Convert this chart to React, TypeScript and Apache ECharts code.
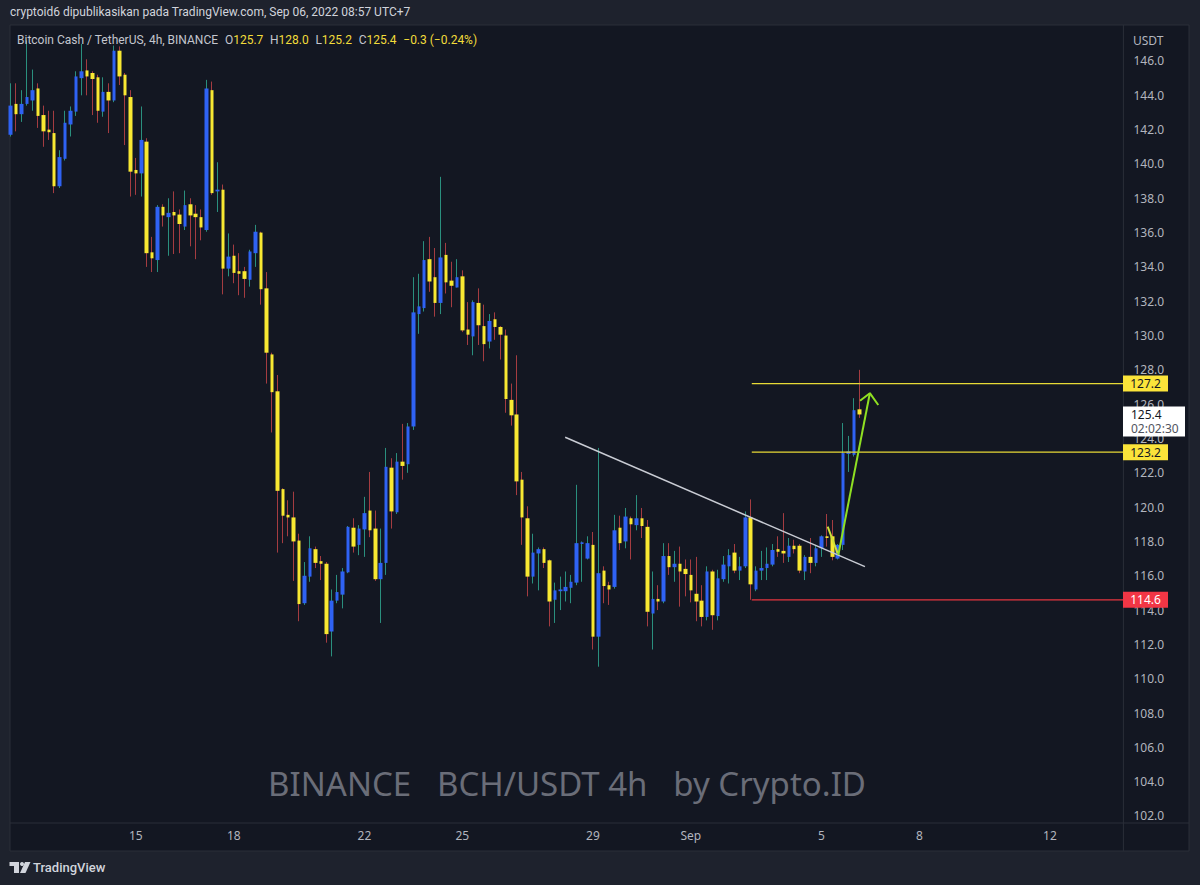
import React, { useEffect, useRef } from 'react';
import * as echarts from 'echarts';

// ---- data (4h candles, Aug 11 -> Sep 6 2022) ----
const N_CAT = 205;
const xTickIndex = [23, 41, 65, 83, 107, 125, 149, 167, 191];
const xTickLabels = ['15', '18', '22', '25', '29', 'Sep', '5', '8', '12'];
const yTickValues = [102, 104, 106, 108, 110, 112, 114, 116, 118, 120, 122, 124, 126, 128, 130, 132, 134, 136, 138, 140, 142, 144, 146];

const opens = [
  141.7, 143.5, 142.9, 143.5, 143.7, 144.4, 142.85, 142.0, 141.8, 138.7,
  140.3, 142.3, 143.05, 145.0, 145.45, 145.3, 145.05, 143.05, 144.2, 143.7,
  146.6, 145.2, 143.9, 139.65, 139.45, 141.3, 134.85, 134.4, 137.5, 136.9,
  137.2, 137.05, 136.35, 137.65, 137.1, 136.9, 136.15, 144.3, 138.4, 138.5,
  133.9, 134.65, 133.75, 133.75, 133.25, 134.8, 136.0, 132.75, 128.9, 126.75,
  121.05, 119.55, 119.4, 118.05, 114.4, 115.95, 117.55, 116.85, 116.7, 112.75,
  114.55, 114.9, 116.2, 118.8, 117.8, 118.7, 119.8, 118.75, 115.8, 116.75,
  122.3, 119.7, 122.65, 122.5, 124.7, 131.25, 131.6, 134.45, 133.4, 131.9,
  134.7, 133.2, 132.8, 133.45, 130.35, 129.95, 131.9, 130.55, 129.65, 130.95,
  130.5, 130.0, 126.25, 125.4, 121.6, 119.35, 115.95, 117.3, 117.55, 116.9,
  114.6, 115.1, 115.1, 115.3, 115.6, 117.85, 117.0, 117.8, 112.45, 116.3,
  115.45, 115.35, 118.8, 118.0, 119.35, 118.95, 119.35, 118.85, 113.8, 114.65,
  114.5, 117.15, 116.5, 116.7, 116.4, 116.05, 114.95, 114.55, 113.6, 116.25,
  113.65, 115.8, 116.55, 117.35, 116.3, 116.55, 119.4, 115.2, 116.3, 116.45,
  116.65, 117.55, 117.45, 117.1, 117.75, 117.75, 116.25, 117.1, 116.75, 117.6,
  118.3, 118.3, 117.0, 117.8, 123.1, 123.05, 125.7,
];
const closes = [
  143.4, 142.9, 143.5, 143.9, 144.3, 142.8, 141.9, 141.85, 138.7, 140.4,
  142.4, 143.1, 145.1, 145.4, 145.1, 144.95, 143.1, 144.2, 143.7, 146.6,
  145.1, 144.0, 139.55, 139.45, 141.4, 134.8, 134.5, 137.5, 137.0, 137.15,
  137.0, 136.5, 137.6, 137.0, 136.9, 136.3, 144.4, 138.3, 138.5, 133.9,
  134.6, 133.65, 133.6, 133.3, 134.9, 136.05, 132.7, 129.0, 126.7, 120.95,
  119.5, 119.4, 118.0, 114.35, 116.0, 117.6, 116.75, 116.7, 112.6, 114.55,
  115.05, 116.25, 118.85, 117.7, 118.75, 119.65, 118.65, 115.8, 116.75, 122.35,
  119.75, 122.65, 122.4, 124.7, 131.35, 131.7, 134.4, 133.15, 131.9, 134.55,
  133.1, 132.9, 133.4, 130.3, 130.05, 131.95, 130.6, 129.5, 130.85, 130.5,
  130.05, 126.3, 125.35, 121.5, 119.4, 115.95, 117.35, 117.55, 116.75, 114.5,
  115.15, 115.2, 115.35, 115.65, 117.9, 117.95, 117.9, 112.45, 116.15, 115.4,
  115.2, 118.65, 117.9, 119.45, 119.0, 119.35, 118.9, 113.9, 114.65, 114.5,
  117.15, 116.5, 116.7, 116.25, 116.1, 115.15, 114.5, 113.6, 116.25, 113.7,
  115.85, 116.65, 117.2, 116.3, 116.55, 119.4, 115.5, 116.3, 116.45, 116.7,
  117.5, 117.4, 117.3, 117.75, 117.55, 116.3, 117.1, 116.75, 117.6, 118.3,
  118.2, 117.1, 117.8, 123.15, 123.25, 125.65, 125.4,
];
const lows = [
  141.6, 141.9, 142.45, 143.4, 143.1, 142.1, 141.0, 141.4, 138.3, 138.6,
  140.2, 141.6, 142.8, 144.0, 144.0, 142.85, 142.4, 142.75, 141.8, 143.6,
  144.6, 141.1, 138.1, 138.2, 138.1, 134.0, 133.7, 133.7, 136.35, 134.65,
  134.75, 134.8, 136.15, 135.2, 134.45, 135.55, 136.05, 138.2, 137.2, 132.4,
  133.45, 133.05, 132.35, 132.2, 132.85, 134.0, 131.8, 127.2, 124.35, 117.35,
  117.9, 118.3, 115.7, 113.35, 114.3, 115.65, 116.45, 115.75, 112.1, 111.3,
  114.4, 114.1, 116.15, 117.35, 117.2, 117.1, 118.25, 115.7, 113.25, 116.05,
  118.75, 119.6, 121.6, 122.0, 124.5, 130.1, 131.4, 132.55, 131.1, 131.25,
  132.45, 131.65, 132.8, 130.2, 129.45, 128.85, 129.45, 128.5, 129.25, 129.75,
  128.6, 125.5, 124.75, 120.7, 117.8, 114.8, 115.55, 115.15, 116.45, 113.05,
  113.25, 114.0, 114.5, 114.4, 115.45, 115.65, 116.95, 111.7, 110.7, 114.4,
  114.3, 115.25, 117.5, 117.6, 116.95, 118.65, 118.2, 113.05, 111.7, 114.0,
  114.4, 116.05, 115.65, 114.2, 114.8, 114.45, 113.35, 113.05, 113.4, 112.85,
  113.4, 115.65, 115.55, 116.15, 115.75, 116.45, 114.6, 115.1, 115.75, 115.75,
  116.55, 117.1, 116.75, 116.8, 117.3, 116.15, 115.75, 116.15, 116.55, 117.1,
  117.7, 116.9, 116.95, 117.5, 122.05, 122.95, 125.2,
];
const highs = [
  144.7, 144.7, 144.3, 147.2, 145.5, 144.7, 143.4, 143.1, 143.1, 140.8,
  143.1, 143.35, 145.4, 147.0, 146.1, 145.4, 145.2, 145.05, 144.7, 146.9,
  146.85, 145.3, 144.3, 140.35, 143.35, 141.5, 135.75, 137.6, 137.65, 138.0,
  138.4, 137.35, 138.45, 138.0, 137.6, 137.35, 144.9, 144.8, 140.1, 138.8,
  135.95, 135.3, 134.8, 134.0, 135.0, 136.45, 136.05, 133.7, 129.0, 127.7,
  121.1, 120.4, 120.9, 118.45, 116.8, 118.3, 117.7, 117.15, 116.8, 115.2,
  116.05, 116.45, 118.9, 119.35, 118.95, 120.6, 122.05, 119.8, 118.75, 123.45,
  122.85, 123.15, 124.85, 124.9, 133.4, 133.6, 135.5, 135.75, 135.1, 139.25,
  135.4, 134.3, 134.45, 133.8, 131.95, 132.05, 132.75, 131.8, 131.25, 131.35,
  130.55, 130.35, 127.2, 128.85, 122.05, 120.05, 118.45, 117.65, 117.65, 116.95,
  115.6, 115.95, 116.25, 116.05, 121.3, 118.0, 118.3, 118.55, 123.45, 116.55,
  115.65, 119.55, 119.5, 119.95, 119.45, 120.7, 119.95, 119.25, 116.25, 115.45,
  117.9, 117.9, 117.45, 117.7, 116.95, 116.95, 117.1, 115.45, 116.55, 116.35,
  116.35, 117.15, 117.55, 117.85, 117.1, 119.75, 120.45, 116.55, 117.45, 117.65,
  117.85, 118.3, 119.65, 118.2, 118.1, 117.85, 117.2, 118.2, 117.8, 118.35,
  119.6, 119.25, 117.85, 124.9, 124.15, 126.35, 128.0,
];

// drawings (x in candle index units, y in price)
const trendLine = [[101.9, 124.07], [157.0, 116.53]];
const levelStartIndex = 136.2;
const yellowLevels = [127.2, 123.2];
const redLevel = 114.6;
const arrowTail = [[150.15, 118.86], [151.99, 117.31]];
const arrowShaft = [[152.1, 117.21], [157.9, 126.64]];
const arrowHead = [[156.09, 126.2], [157.9, 126.64], [159.45, 125.95]];
const lastPrice = 125.4;
const countdown = '02:02:30';

const FONT = "'Noto Sans', 'DejaVu Sans', sans-serif";
const UI_FONT = "Roboto, 'Noto Sans', sans-serif";
const BLUE = '#2f62f3';
const YELLOW = '#f8e832';
const WICK_UP = '#2a8f7e';
const WICK_DN = '#a43c41';
const TEXT = '#b2b5be';

export default function App() {
  const ref = useRef<HTMLDivElement>(null);

  useEffect(() => {
    const chart = echarts.init(ref.current as HTMLDivElement, null, { renderer: 'svg' });
    const cats = Array.from({ length: N_CAT }, (_, i) => String(i));
    const labelMap = new Map<number, string>(xTickIndex.map((v, i) => [v, xTickLabels[i]]));
    const ohlc = opens.map((o, i) => [o, closes[i], lows[i], highs[i]]);
    const bodies = opens.map((o, i) => [o, closes[i], Math.min(o, closes[i]), Math.max(o, closes[i])]);
    const seg = (pts: number[][], color: string, width: number, z = 5) => ({
      type: 'line', xAxisIndex: 1, yAxisIndex: 0, data: pts, symbol: 'none', silent: true,
      lineStyle: { color, width }, z, animation: false,
    });
    const xEnd = N_CAT - 0.5;

    const option: any = {
      animation: false,
      backgroundColor: '#1e222d',
      grid: { left: 8, right: 76.6, top: 25, bottom: 62, containLabel: false },
      xAxis: [
        {
          type: 'category', data: cats, boundaryGap: true,
          axisLine: { show: false }, axisTick: { show: false }, splitLine: { show: false },
          axisLabel: {
            interval: (i: number) => labelMap.has(i),
            formatter: (v: string) => labelMap.get(Number(v)) ?? '',
            color: TEXT, fontSize: 12, margin: 6, fontFamily: FONT,
          },
        },
        { type: 'value', min: -0.5, max: xEnd, show: false },
      ],
      yAxis: {
        type: 'value', position: 'right', min: 101.591, max: 148.098,
        axisLine: { show: false }, axisTick: { show: false }, splitLine: { show: false },
        axisLabel: {
          customValues: yTickValues,
          formatter: (v: number) => v.toFixed(1),
          color: TEXT, fontSize: 12, margin: 10, fontFamily: FONT,
        },
      },
      series: [
        {
          type: 'candlestick', name: 'wick', data: ohlc, barWidth: 1, z: 3, silent: true,
          itemStyle: { color: WICK_UP, color0: WICK_DN, borderColor: WICK_UP, borderColor0: WICK_DN, borderWidth: 1 },
        },
        {
          type: 'candlestick', name: 'body', data: bodies, barWidth: 4, z: 4, silent: true,
          itemStyle: { color: BLUE, color0: YELLOW, borderColor: BLUE, borderColor0: YELLOW, borderWidth: 0 },
        },
        seg(trendLine, '#c9ccd4', 1.5),
        ...yellowLevels.map((v) => seg([[levelStartIndex, v], [xEnd, v]], '#e8da36', 1.2)),
        seg([[levelStartIndex, redLevel], [xEnd, redLevel]], '#e5363f', 1.2),
        seg(arrowTail, '#cfe23a', 2, 6),
        seg(arrowShaft, '#8fe022', 2, 6),
        seg(arrowHead, '#8fe022', 2, 6),
      ],
    };
    chart.setOption(option);

    const py = (v: number) => chart.convertToPixel({ yAxisIndex: 0 }, v) as number;
    const boxX = 1123;
    const boxes: any[] = [];
    const priceBox = (v: number, bg: string, fg: string) => {
      const y = py(v);
      boxes.push({
        type: 'rect', z: 50, shape: { x: boxX, y: y - 8, width: 45, height: 16 }, style: { fill: bg },
      });
      boxes.push({
        type: 'text', z: 51, x: boxX + 22.5, y,
        style: { text: v.toFixed(1), fill: fg, font: `12px ${FONT}`, textAlign: 'center', textVerticalAlign: 'middle' },
      });
    };
    yellowLevels.forEach((v) => priceBox(v, '#fbe43a', '#131722'));
    priceBox(redLevel, '#f23645', '#ffffff');
    const yl = py(lastPrice);
    boxes.push({ type: 'rect', z: 50, shape: { x: boxX, y: yl - 8, width: 62, height: 30 }, style: { fill: '#ffffff' } });
    boxes.push({ type: 'text', z: 51, x: boxX + 8, y: yl, style: { text: lastPrice.toFixed(1), fill: '#131722', font: `12px ${FONT}`, textVerticalAlign: 'middle' } });
    boxes.push({ type: 'text', z: 51, x: boxX + 8, y: yl + 14, style: { text: countdown, fill: '#50535e', font: `12px ${FONT}`, textVerticalAlign: 'middle' } });

    chart.setOption({
      graphic: {
        elements: [
          { type: 'rect', z: -10, shape: { x: 10, y: 25, width: 1179, height: 826 }, style: { fill: '#131722', stroke: '#2a2e39', lineWidth: 1 } },
          { type: 'line', z: -9, shape: { x1: 1123.4, y1: 25, x2: 1123.4, y2: 851 }, style: { stroke: '#2a2e39', lineWidth: 1 } },
          { type: 'line', z: -9, shape: { x1: 10, y1: 823, x2: 1189, y2: 823 }, style: { stroke: '#2a2e39', lineWidth: 1 } },
          {
            type: 'text', z: 100, x: 10, y: 12,
            style: { text: 'cryptoid6 dipublikasikan pada TradingView.com, Sep 06, 2022 08:57 UTC+7', fill: '#d1d4dc', font: `12px ${UI_FONT}`, textVerticalAlign: 'middle' },
          },
          {
            type: 'text', z: 100, x: 17, y: 40,
            style: {
              text: '{a|Bitcoin Cash / TetherUS, 4h, BINANCE}  {a|O}{b|125.7}  {a|H}{b|128.0}  {a|L}{b|125.2}  {a|C}{b|125.4}  {b|−0.3 (−0.24%)}',
              textVerticalAlign: 'middle',
              rich: {
                a: { fill: '#c3c6ce', font: `12px ${UI_FONT}` },
                b: { fill: '#f2dc3a', font: `12px ${UI_FONT}` },
              },
            },
          },
          { type: 'text', z: 100, x: 1133, y: 40, style: { text: 'USDT', fill: TEXT, font: `12px ${FONT}`, textVerticalAlign: 'middle' } },
          {
            type: 'text', z: 1, x: 567, y: 783,
            style: { text: 'BINANCE   BCH/USDT 4h   by Crypto.ID', fill: '#6a6d78', font: `33px ${FONT}`, textAlign: 'center', textVerticalAlign: 'middle' },
          },
          { type: 'polygon', z: 100, shape: { points: [[9.5, 862], [19, 862], [19, 873], [14, 873], [14, 866], [9.5, 866]] }, style: { fill: '#d1d4dc' } },
          { type: 'circle', z: 100, shape: { cx: 22, cy: 864, r: 2 }, style: { fill: '#d1d4dc' } },
          { type: 'polygon', z: 100, shape: { points: [[25, 862], [30.5, 862], [25.5, 873], [20, 873]] }, style: { fill: '#d1d4dc' } },
          { type: 'text', z: 100, x: 33, y: 867, style: { text: 'TradingView', fill: '#d1d4dc', font: `500 13px ${UI_FONT}`, textVerticalAlign: 'middle' } },
          ...boxes,
        ],
      },
    });

    return () => chart.dispose();
  }, []);

  return <div ref={ref} style={{ position: 'fixed', left: 0, top: 0, width: 1200, height: 885 }} />;
}
